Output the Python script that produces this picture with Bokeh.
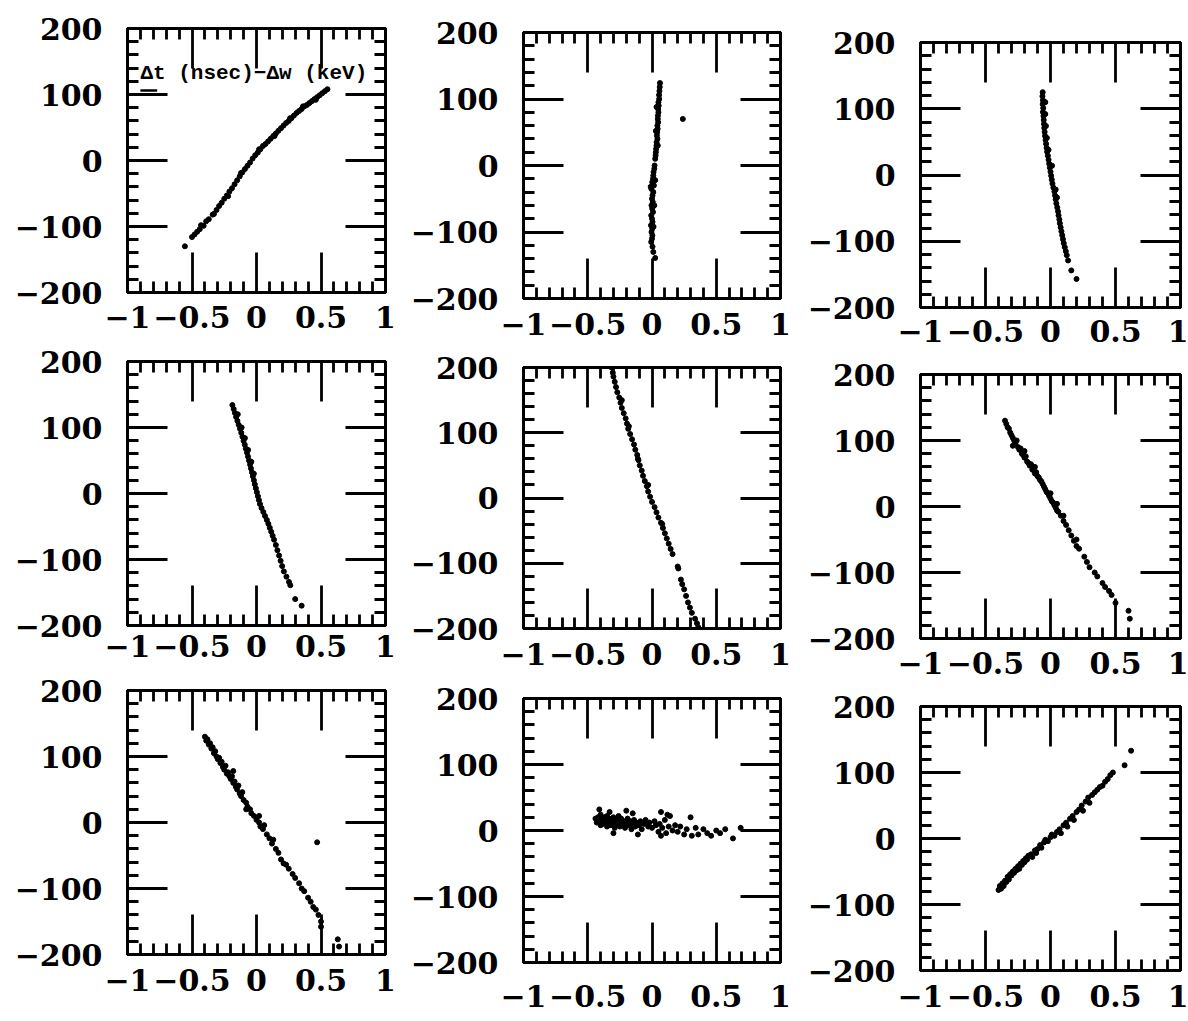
from bokeh.plotting import figure
from bokeh.layouts import row, column
from bokeh.models import (FixedTicker, LinearAxis, Label, BoxAnnotation, Range1d,
                          CustomLabelingPolicy)
from bokeh.embed import file_html
from bokeh.resources import INLINE

# ---------------- axis ticks / labels ----------------
X_TICKS = [-1, -0.5, 0, 0.5, 1]
X_MINOR = [-0.9, -0.8, -0.7, -0.6, -0.4, -0.3, -0.2, -0.1, 0.1, 0.2, 0.3, 0.4, 0.6, 0.7, 0.8, 0.9]
X_LABELS = {-1: "\u22121", -0.5: "\u22120.5", 0: "0", 0.5: "0.5", 1: "1"}
Y_TICKS = [-200, -100, 0, 100, 200]
Y_MINOR = [-180, -160, -140, -120, -80, -60, -40, -20, 20, 40, 60, 80, 120, 140, 160, 180]
Y_LABELS = {-200: "\u2212200", -100: "\u2212100", 0: "0", 100: "100", 200: "200"}
ANNOTATION = "\u0394t (nsec)\u2212\u0394w (keV)"

# ---------------- data ----------------
p1_x = [-0.555, -0.50, -0.48, -0.46, -0.44, -0.41, -0.39, -0.37, -0.34, -0.31, -0.29, -0.27, -0.25, -0.23, -0.21,
        -0.19, -0.17, -0.15, -0.13, -0.11, -0.09, -0.07, -0.05, -0.03, -0.01, 0.01, 0.03, 0.05, 0.07, 0.09,
        0.11, 0.13, 0.15, 0.17, 0.19, 0.21, 0.23, 0.25, 0.27, 0.29, 0.31, 0.33, 0.35, 0.37, 0.39,
        0.41, 0.43, 0.45, 0.47, 0.49, 0.51, 0.53, 0.55,
        -0.43, -0.33, -0.22, -0.12, 0.02, 0.14, 0.26, 0.36, 0.46]
p1_y = [-130, -116, -112, -108, -104, -99, -92, -89, -82, -75, -69, -64, -58, -53, -47,
        -42, -36, -30, -24, -18, -13, -8, -3, 3, 8, 12, 17, 22, 25, 29,
        33, 37, 41, 45, 49, 53, 57, 60, 64, 68, 72, 75, 78, 82, 84,
        87, 90, 93, 96, 99, 102, 105, 108,
        -98, -81, -54, -19, 17, 37, 64, 82, 92]

p2_x = [0.062, 0.060, 0.058, 0.055, 0.056, 0.050, 0.052, 0.048, 0.050, 0.046, 0.045, 0.048, 0.042, 0.044, 0.040,
        0.038, 0.042, 0.036, 0.035, 0.032, 0.030, 0.028, 0.025, 0.020, 0.018, 0.012, 0.010, 0.008,
        0.002, 0.015, -0.005, 0.010, 0.004, 0.000, 0.006, -0.004, 0.002, 0.008, -0.006, 0.000, 0.004, -0.008, 0.002,
        -0.004, 0.003, 0.000, -0.006, 0.004, 0.010, 0.025,
        0.24, 0.035, 0.030, 0.045, 0.025, -0.010, 0.018, 0.012]
p2_y = [124, 118, 112, 106, 100, 95, 90, 85, 80, 75, 70, 65, 60, 55, 50,
        45, 40, 35, 30, 25, 20, 15, 10, 0, -5, -10, -15, -20,
        -25, -30, -35, -40, -45, -50, -55, -60, -65, -70, -75, -80, -85, -90, -95,
        -100, -105, -110, -115, -122, -130, -139,
        70, 88, 52, 30, -22, -32, -60, -92]

p3_x = [-0.060, -0.062, -0.058, -0.060, -0.056, -0.058, -0.054, -0.052, -0.050, -0.048,
        -0.045, -0.042, -0.038, -0.034, -0.030, -0.026, -0.020, -0.015, -0.010, -0.005,
        0.000, 0.005, 0.010, 0.015, 0.022, 0.030, 0.035, 0.040, 0.045, 0.052,
        0.058, 0.062, 0.068, 0.072, 0.078, 0.084, 0.090, 0.096, 0.102, 0.110,
        0.118, 0.125, 0.135, 0.160, 0.200,
        -0.040, -0.040, -0.035, -0.028, -0.015, 0.012, 0.040, 0.050]
p3_y = [125, 119, 113, 107, 101, 95, 89, 83, 77, 71,
        65, 59, 53, 47, 41, 35, 29, 23, 17, 11,
        5, -1, -7, -13, -19, -25, -31, -37, -43, -49,
        -55, -61, -67, -73, -79, -85, -91, -97, -103, -109,
        -115, -121, -129, -144, -157,
        110, 92, 74, 56, 38, 14, -22, -34]

p4_x = [-0.187, -0.177, -0.167, -0.158, -0.148, -0.138, -0.128, -0.118, -0.109, -0.100,
        -0.091, -0.083, -0.074, -0.066, -0.058, -0.050, -0.043, -0.035, -0.028, -0.020,
        -0.013, -0.005, 0.003, 0.011, 0.019, 0.027, 0.039, 0.053, 0.066, 0.080,
        0.092, 0.103, 0.114, 0.125, 0.136, 0.150, 0.162, 0.175, 0.187, 0.199,
        0.212, 0.232, 0.252, 0.262, 0.300, 0.350,
        -0.145, -0.115, -0.090, -0.065, -0.040, -0.020]
p4_y = [134, 128, 122, 116, 110, 104, 98, 92, 86, 80,
        74, 68, 62, 56, 50, 44, 38, 32, 26, 20,
        14, 8, 2, -4, -10, -16, -22, -28, -34, -40,
        -46, -52, -58, -64, -70, -78, -86, -94, -102, -110,
        -118, -126, -134, -139, -160, -170,
        120, 100, 84, 66, 48, 30]

p5_x = [-0.315, -0.305, -0.300, -0.290, -0.280, -0.270, -0.255, -0.245, -0.235, -0.220,
        -0.205, -0.195, -0.185, -0.170, -0.155, -0.140, -0.130, -0.115, -0.105, -0.095,
        -0.080, -0.070, -0.056, -0.040, -0.030, -0.015, 0.000, 0.020, 0.035, 0.050,
        0.070, 0.085, 0.100, 0.115, 0.130, 0.145, 0.160, 0.200, 0.205, 0.225,
        0.235, 0.250, 0.265, 0.280, 0.295, 0.310, 0.335, 0.350, 0.360,
        -0.235, -0.180, -0.110, -0.030, 0.080]
p5_y = [200, 192, 186, 178, 170, 162, 154, 146, 138, 130,
        122, 114, 106, 98, 90, 82, 74, 66, 58, 50,
        42, 34, 26, 18, 10, 2, -6, -14, -22, -30,
        -38, -46, -54, -62, -70, -78, -86, -105, -108, -125,
        -132, -140, -150, -160, -168, -176, -185, -192, -198,
        150, 110, 60, 20, -40]

p6_x = [-0.35, -0.34, -0.33, -0.32, -0.31, -0.30, -0.29, -0.28, -0.27, -0.26,
        -0.25, -0.24, -0.23, -0.22, -0.21, -0.20, -0.19, -0.18, -0.17, -0.16,
        -0.15, -0.14, -0.13, -0.12, -0.11, -0.10, -0.09, -0.08, -0.07, -0.06,
        -0.05, -0.04, -0.03, -0.02, -0.01, 0.00, 0.01, 0.02, 0.03, 0.04,
        0.05, 0.06, 0.08, 0.10, 0.12, 0.14, 0.16, 0.18, 0.20, 0.22,
        0.26, 0.28, 0.30, 0.34, 0.36, 0.40, 0.42, 0.45, 0.47, 0.50,
        0.60, 0.61, -0.29, -0.20, -0.12, 0.00, 0.05, 0.10, 0.20]
p6_y = [130, 125, 120, 118, 112, 108, 104, 100, 96, 100,
        90, 86, 88, 80, 78, 74, 76, 68, 66, 62,
        64, 56, 55, 50, 52, 46, 44, 40, 38, 34,
        30, 26, 22, 20, 16, 12, 8, 6, 2, -2,
        -6, -8, -14, -22, -28, -36, -44, -52, -60, -64,
        -76, -84, -92, -100, -106, -116, -122, -128, -134, -146,
        -158, -170, 92, 84, 60, 20, 4, -14, -50]

p7_x = [-0.40, -0.39, -0.38, -0.37, -0.36, -0.35, -0.34, -0.33, -0.32, -0.31,
        -0.30, -0.29, -0.28, -0.27, -0.26, -0.25, -0.24, -0.23, -0.22, -0.21,
        -0.20, -0.19, -0.18, -0.17, -0.16, -0.15, -0.14, -0.13, -0.12, -0.11,
        -0.10, -0.08, -0.07, -0.05, -0.04, -0.02, 0.00, 0.02, 0.03, 0.05,
        0.06, 0.08, 0.10, 0.12, 0.13, 0.15, 0.17, 0.19, 0.21, 0.23,
        0.25, 0.28, 0.30, 0.33, 0.35, 0.37, 0.40, 0.42, 0.44, 0.46,
        0.48, 0.50, 0.50, 0.63, 0.64, 0.47, -0.18, -0.08, 0.02]
p7_y = [130, 124, 126, 118, 120, 112, 114, 105, 108, 100,
        96, 98, 90, 92, 84, 80, 86, 74, 76, 70,
        66, 70, 60, 62, 54, 50, 56, 44, 40, 46,
        34, 30, 24, 20, 14, 10, 4, 0, -6, -10,
        -4, -18, -24, -32, -26, -40, -46, -56, -62, -64,
        -70, -78, -84, -92, -100, -104, -114, -120, -128, -132,
        -140, -150, -158, -177, -188, -30, 78, 20, 10]

p8_x = [-0.44, -0.43, -0.42, -0.41, -0.40, -0.40, -0.39, -0.38, -0.37, -0.36,
        -0.35, -0.35, -0.34, -0.33, -0.32, -0.31, -0.30, -0.29, -0.29, -0.28,
        -0.27, -0.26, -0.25, -0.25, -0.24, -0.23, -0.22, -0.21, -0.20, -0.19,
        -0.18, -0.17, -0.16, -0.15, -0.14, -0.13, -0.12, -0.10, -0.09, -0.08,
        -0.06, -0.05, -0.03, -0.02, 0.00, 0.02, 0.03, 0.05, 0.06, 0.08,
        0.10, 0.11, 0.13, 0.14, 0.16, 0.18, 0.20, 0.22, 0.25, 0.27,
        0.30, 0.31, 0.34, 0.36, 0.40, 0.43, 0.46, 0.50, 0.53, 0.57,
        0.63, 0.69, -0.41, -0.33, -0.20, -0.15, 0.07, 0.12, -0.30, -0.11, 0.07]
p8_y = [18, 12, 20, 14, 8, 24, 16, 10, 20, 14,
        6, 22, 12, 18, 8, 14, 20, 4, 12, 16,
        10, 22, 6, 14, 18, 10, 14, 4, 12, 18,
        8, 14, 2, 10, 16, 6, 12, 8, 14, 2,
        10, 16, 6, 12, 4, 14, 8, -2, 10, 4,
        16, -4, 6, 22, 0, 8, -2, 6, -6, 2,
        20, -8, 4, -6, 2, -4, -8, 0, -4, 2,
        -12, 4, 32, 28, 30, 26, 28, 24, -4, -6, -8]

p9_x = [-0.40, -0.39, -0.38, -0.37, -0.36, -0.35, -0.34, -0.33, -0.32, -0.31,
        -0.30, -0.29, -0.28, -0.27, -0.26, -0.25, -0.24, -0.23, -0.22, -0.21,
        -0.20, -0.19, -0.18, -0.17, -0.15, -0.14, -0.12, -0.11, -0.10, -0.08,
        -0.07, -0.05, -0.04, -0.02, 0.00, 0.01, 0.03, 0.05, 0.07, 0.08,
        0.10, 0.12, 0.13, 0.15, 0.17, 0.18, 0.20, 0.22, 0.24, 0.25,
        0.27, 0.29, 0.30, 0.32, 0.34, 0.36, 0.38, 0.40, 0.42, 0.44,
        0.46, 0.48, 0.57, 0.62]
p9_y = [-78, -72, -76, -68, -72, -64, -66, -58, -62, -54,
        -56, -50, -52, -46, -48, -42, -46, -38, -40, -34,
        -36, -30, -32, -26, -24, -28, -18, -22, -16, -10,
        -14, -6, -2, -4, 2, 6, 4, 10, 14, 8,
        20, 24, 18, 30, 34, 28, 40, 44, 50, 42,
        56, 62, 54, 66, 70, 74, 78, 80, 86, 90,
        96, 100, 111, 133]

FONT = "DejaVu Serif"
FONT_SIZE = "30px"
xticker = FixedTicker(ticks=X_TICKS, minor_ticks=X_MINOR)
yticker = FixedTicker(ticks=Y_TICKS, minor_ticks=Y_MINOR)
NO_LABELS = CustomLabelingPolicy(
    code="const none = []; none.next = () => ({done: true, value: []}); return none;")


def style(ax, ticker, overrides, standoff, show):
    ax.ticker = ticker
    ax.axis_line_color = "black"
    ax.axis_line_width = 3
    ax.major_tick_line_color = "black"
    ax.major_tick_line_width = 2.8
    ax.minor_tick_line_color = "black"
    ax.minor_tick_line_width = 2.8
    ax.major_tick_in = 40
    ax.major_tick_out = 0
    ax.minor_tick_in = 11
    ax.minor_tick_out = 0
    if show:
        ax.major_label_overrides = overrides
        ax.major_label_text_font = FONT
        ax.major_label_text_font_size = FONT_SIZE
        ax.major_label_text_font_style = "bold"
        ax.major_label_text_color = "black"
        ax.major_label_standoff = standoff
    else:
        ax.major_label_policy = NO_LABELS
        ax.major_label_text_font_size = "0px"
        ax.major_label_standoff = 0


def panel(xs, ys, w, h, bl, br, bt, bb, xstand):
    p = figure(width=w, height=h, x_range=Range1d(-1, 1), y_range=Range1d(-200, 200),
               output_backend="svg", toolbar_location=None,
               min_border_left=bl, min_border_right=br, min_border_top=bt, min_border_bottom=bb)
    p.xgrid.visible = False
    p.ygrid.visible = False
    p.outline_line_color = "black"
    p.outline_line_width = 3
    p.background_fill_color = "white"
    p.border_fill_color = "white"
    style(p.xaxis[0], xticker, X_LABELS, xstand, True)
    style(p.yaxis[0], yticker, Y_LABELS, 25, True)
    top = LinearAxis()
    style(top, xticker, None, 0, False)
    p.add_layout(top, "above")
    right = LinearAxis()
    style(right, yticker, None, 0, False)
    p.add_layout(right, "right")
    p.scatter(xs, ys, size=5, color="black", marker="circle")
    return p


#            data         w    h    left right top bottom standoff
f1 = panel(p1_x, p1_y, 400, 342, 127, 10, 28, 50, 13)
f4 = panel(p4_x, p4_y, 400, 329, 120, 10, 19, 46, 9)
f7 = panel(p7_x, p7_y, 400, 350, 115, 15, 19, 67, 14)

f2 = panel(p2_x, p2_y, 397, 349, 123, 7, 32, 51, 14)
f5 = panel(p5_x, p5_y, 397, 330, 120, 9, 18, 51, 14)
f8 = panel(p8_x, p8_y, 397, 342, 114, 17, 19, 59, 22)

f3 = panel(p3_x, p3_y, 391, 356, 123, 5, 42, 49, 12)
f6 = panel(p6_x, p6_y, 391, 332, 118, 5, 18, 50, 13)
f9 = panel(p9_x, p9_y, 391, 333, 114, 8, 18, 51, 14)

f1.add_layout(Label(x=-0.9, y=114, text=ANNOTATION, text_font="Liberation Mono",
                    text_font_size="21px", text_font_style="bold", text_color="black"))
f1.add_layout(BoxAnnotation(left=-0.90, right=-0.77, bottom=104, top=108,
                            fill_color="black", fill_alpha=1.0, line_color=None))

layout = row(column(f1, f4, f7), column(f2, f5, f8), column(f3, f6, f9))

open("out.html", "w").write(file_html(layout, INLINE))
